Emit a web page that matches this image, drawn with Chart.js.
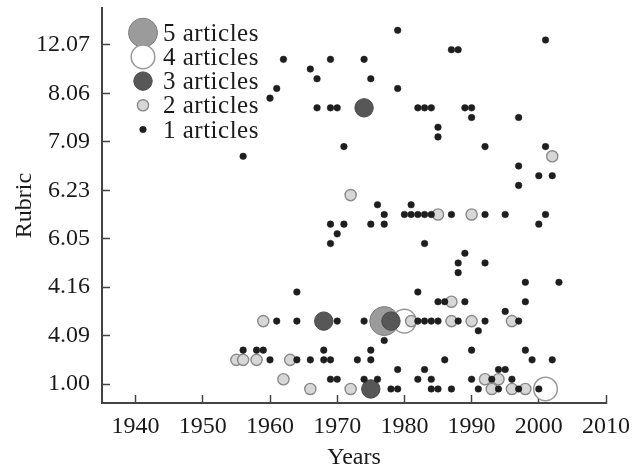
<!DOCTYPE html>
<html>
<head>
<meta charset="utf-8">
<script src="https://cdn.jsdelivr.net/npm/chart.js@4.4.1/dist/chart.umd.min.js"></script>
<style>
  html, body { margin: 0; padding: 0; background: #fff; }
  #wrap { width: 633px; height: 475px; position: relative; }
</style>
</head>
<body>
<div id="wrap"><canvas id="chart"></canvas></div>
<script>
// Rubric labels sit on ticks 0..7, each rubric has sub-rows between ticks
const RUBRICS = ['1.00', '4.09', '4.16', '6.05', '6.23', '7.09', '8.06', '12.07'];
const YEAR_TICKS = [1940, 1950, 1960, 1970, 1980, 1990, 2000, 2010];

// [year, row]
const ONE_ARTICLE = [
  [1979, 7.3], [2001, 7.1], [1987, 6.9], [1988, 6.9],
  [1962, 6.7], [1969, 6.7], [1974, 6.7], [1966, 6.5], [1967, 6.3], [1975, 6.3],
  [1961, 6.1], [1979, 6.1], [1960, 5.9],
  [1967, 5.7], [1969, 5.7], [1970, 5.7], [1982, 5.7], [1983, 5.7], [1984, 5.7], [1989, 5.7], [1990, 5.7],
  [1990, 5.5], [1997, 5.5], [1985, 5.3], [1985, 5.1],
  [1971, 4.9], [1992, 4.9], [2001, 4.9], [1956, 4.7], [1997, 4.5], [2000, 4.3], [2002, 4.3], [1997, 4.1],
  [1976, 3.7], [1981, 3.7],
  [1977, 3.5], [1980, 3.5], [1981, 3.5], [1982, 3.5], [1983, 3.5], [1984, 3.5], [1987, 3.5], [1992, 3.5], [1995, 3.5], [2001, 3.5],
  [1969, 3.3], [1971, 3.3], [1975, 3.3], [1977, 3.3], [2000, 3.3], [1970, 3.1],
  [1969, 2.9], [1983, 2.9], [1989, 2.7], [1988, 2.5], [1992, 2.5], [1988, 2.3], [1998, 2.1], [2003, 2.1],
  [1964, 1.9], [1982, 1.9], [1985, 1.7], [1986, 1.7], [1989, 1.7], [1998, 1.7], [1995, 1.5],
  [1961, 1.3], [1964, 1.3], [1970, 1.3], [1974, 1.3], [1982, 1.3], [1983, 1.3], [1984, 1.3], [1985, 1.3], [1988, 1.3], [1992, 1.3], [1997, 1.3],
  [1991, 1.1], [1977, 0.9],
  [1956, 0.7], [1958, 0.7], [1959, 0.7], [1968, 0.7], [1975, 0.7], [1990, 0.7], [1998, 0.7],
  [1960, 0.5], [1964, 0.5], [1966, 0.5], [1968, 0.5], [1969, 0.5], [1973, 0.5], [1975, 0.5], [1986, 0.5], [1999, 0.5], [2002, 0.5],
  [1979, 0.3], [1983, 0.3], [1994, 0.3], [1995, 0.3],
  [1969, 0.1], [1970, 0.1], [1974, 0.1], [1976, 0.1], [1982, 0.1], [1984, 0.1], [1990, 0.1], [1993, 0.1], [1996, 0.1],
  [1978, -0.1], [1979, -0.1], [1984, -0.1], [1985, -0.1], [1987, -0.1], [1991, -0.1], [1994, -0.1], [1997, -0.1], [2000, -0.1],
];
const TWO_ARTICLES = [
  [2002, 4.7], [1972, 3.9], [1985, 3.5], [1990, 3.5], [1987, 1.7],
  [1959, 1.3], [1981, 1.3], [1987, 1.3], [1990, 1.3], [1996, 1.3],
  [1955, 0.5], [1956, 0.5], [1958, 0.5], [1963, 0.5],
  [1962, 0.1], [1992, 0.1], [1994, 0.1],
  [1966, -0.1], [1972, -0.1], [1993, -0.1], [1996, -0.1], [1998, -0.1],
];
const THREE_ARTICLES = [[1974, 5.7], [1968, 1.3], [1978, 1.3], [1975, -0.1]];
const FOUR_ARTICLES = [[1980, 1.3], [2001, -0.1]];
const FIVE_ARTICLES = [[1977, 1.3]];

// first dataset is drawn on top
const SERIES = [
  { label: '1 articles', data: ONE_ARTICLE, r: 3.3, fill: '#1e1e1e', stroke: '#1e1e1e', bw: 0.5 },
  { label: '2 articles', data: TWO_ARTICLES, r: 5.6, fill: '#d7d7d7', stroke: '#8a8a8a', bw: 1.4 },
  { label: '3 articles', data: THREE_ARTICLES, r: 9.2, fill: '#575757', stroke: '#484848', bw: 1 },
  { label: '5 articles', data: FIVE_ARTICLES, r: 14.5, fill: '#9b9b9b', stroke: '#808080', bw: 1 },
  { label: '4 articles', data: FOUR_ARTICLES, r: 11.8, fill: '#ffffff', stroke: '#999999', bw: 1.5 },
];
const LEGEND_ORDER = ['5 articles', '4 articles', '3 articles', '2 articles', '1 articles'];

const FONT = '"Liberation Serif", "DejaVu Serif", serif';
Chart.defaults.font.family = FONT;
Chart.defaults.color = '#1a1a1a';

const articleLegend = {
  id: 'articleLegend',
  afterDraw(chart) {
    const ctx = chart.ctx;
    ctx.save();
    ctx.font = '25px ' + FONT;
    if ('letterSpacing' in ctx) ctx.letterSpacing = '0.5px';
    ctx.textBaseline = 'alphabetic';
    LEGEND_ORDER.forEach((label, i) => {
      const s = SERIES.find(d => d.label === label);
      const cy = 32.7 + 24.2 * i;
      ctx.beginPath();
      ctx.arc(143, cy, s.r, 0, Math.PI * 2);
      ctx.fillStyle = s.fill;
      ctx.fill();
      ctx.lineWidth = s.bw;
      ctx.strokeStyle = s.stroke;
      ctx.stroke();
      ctx.fillStyle = '#1a1a1a';
      ctx.fillText(label, 163, cy + 8);
    });
    ctx.restore();
  },
};

new Chart(document.getElementById('chart'), {
  type: 'scatter',
  data: {
    datasets: SERIES.map(s => ({
      label: s.label,
      data: s.data.map(([x, y]) => ({ x, y })),
      pointRadius: s.r,
      pointHoverRadius: s.r,
      pointBackgroundColor: s.fill,
      pointBorderColor: s.stroke,
      pointBorderWidth: s.bw,
      clip: false,
    })),
  },
  options: {
    responsive: true,
    maintainAspectRatio: false,
    animation: false,
    layout: { autoPadding: false, padding: { top: 8, right: 27, bottom: 0, left: 0 } },
    plugins: { legend: { display: false }, tooltip: { enabled: false } },
    scales: {
      x: {
        type: 'linear',
        position: 'bottom',
        min: 1935,
        max: 2010,
        afterBuildTicks: s => { s.ticks = YEAR_TICKS.map(v => ({ value: v })); },
        afterFit: s => { s.height = 72; s.paddingLeft = 0; s.paddingRight = 0; },
        ticks: { font: { size: 24 }, padding: 17, maxRotation: 0, autoSkip: false, callback: v => String(v) },
        grid: { drawOnChartArea: false, drawTicks: true, tickLength: -8, tickColor: '#444', tickWidth: 1.5 },
        border: { color: '#444', width: 2 },
        title: { display: true, text: 'Years', font: { size: 24 }, padding: { top: 0, bottom: 3 } },
      },
      y: {
        type: 'linear',
        min: -0.39,
        max: 7.76,
        afterBuildTicks: s => { s.ticks = RUBRICS.map((_, i) => ({ value: i })); },
        afterFit: s => { s.width = 102; s.paddingTop = 0; s.paddingBottom = 0; },
        ticks: { font: { size: 24 }, padding: 20, autoSkip: false, callback: v => RUBRICS[v] },
        grid: { drawOnChartArea: false, drawTicks: true, tickLength: -8, tickColor: '#444', tickWidth: 1.5 },
        border: { color: '#444', width: 2 },
        title: { display: true, text: 'Rubric', font: { size: 24 }, padding: { top: 10, bottom: 0 } },
      },
    },
  },
  plugins: [articleLegend],
});
</script>
</body>
</html>
